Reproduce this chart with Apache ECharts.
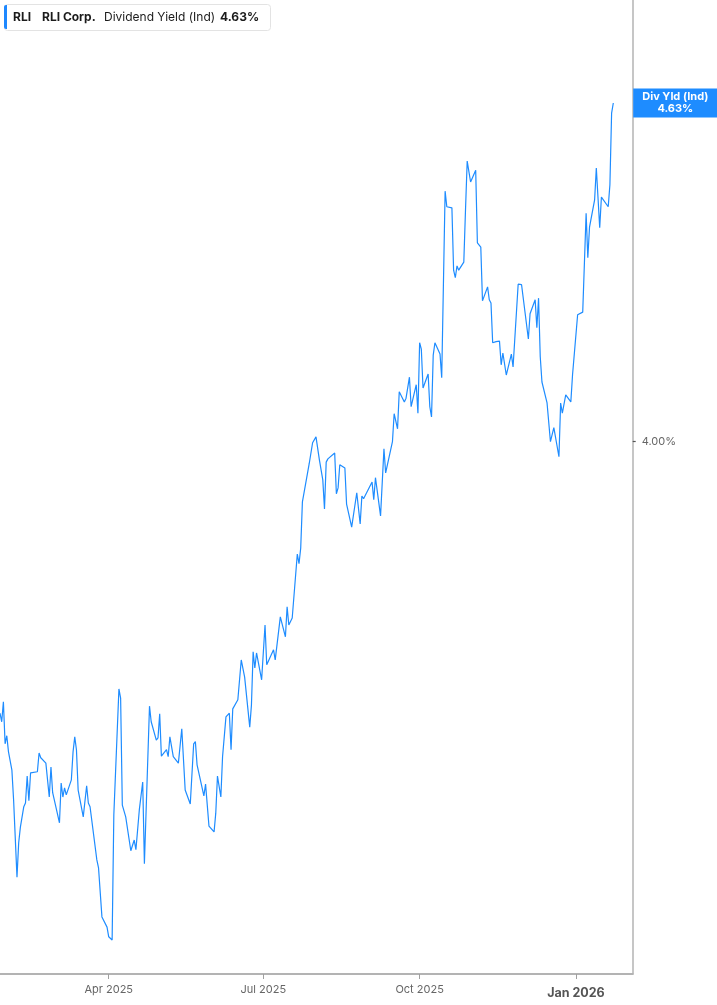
<!DOCTYPE html>
<html>
<head>
<meta charset="utf-8">
<script src="https://cdn.jsdelivr.net/npm/echarts@6/dist/echarts.min.js"></script>
<style>
  html, body { margin: 0; padding: 0; background: #fff; }
  #chart { width: 717px; height: 1005px; }
</style>
</head>
<body>
<div id="chart"></div>
<script>
// ---- data ----
const dates = [
  '2025-01-27','2025-01-28','2025-01-29','2025-01-30','2025-01-31','2025-02-01','2025-02-03','2025-02-04','2025-02-06','2025-02-07',
  '2025-02-08','2025-02-10','2025-02-11','2025-02-12','2025-02-13','2025-02-14','2025-02-18','2025-02-19','2025-02-20','2025-02-21',
  '2025-02-23','2025-02-25','2025-02-26','2025-02-27','2025-03-03','2025-03-04','2025-03-05','2025-03-06','2025-03-07','2025-03-10',
  '2025-03-11','2025-03-12','2025-03-13','2025-03-14','2025-03-17','2025-03-19','2025-03-20','2025-03-21','2025-03-25','2025-03-26',
  '2025-03-28','2025-03-31','2025-04-01','2025-04-03','2025-04-04','2025-04-07','2025-04-08','2025-04-09','2025-04-11','2025-04-14',
  '2025-04-16','2025-04-17','2025-04-19','2025-04-21','2025-04-22','2025-04-23','2025-04-25','2025-04-26','2025-04-29','2025-04-30',
  '2025-05-01','2025-05-02','2025-05-05','2025-05-06','2025-05-07','2025-05-09','2025-05-12','2025-05-14','2025-05-16','2025-05-19',
  '2025-05-21','2025-05-22','2025-05-23','2025-05-27','2025-05-28','2025-05-30','2025-06-02','2025-06-03','2025-06-04','2025-06-05',
  '2025-06-06','2025-06-07','2025-06-09','2025-06-11','2025-06-12','2025-06-13','2025-06-16','2025-06-18','2025-06-20','2025-06-23',
  '2025-06-24','2025-06-25','2025-06-26','2025-06-27','2025-06-30','2025-07-02','2025-07-03','2025-07-07','2025-07-08','2025-07-11',
  '2025-07-14','2025-07-15','2025-07-16','2025-07-18','2025-07-21','2025-07-22','2025-07-23','2025-07-24','2025-07-25','2025-07-28',
  '2025-07-29','2025-07-30','2025-08-01','2025-08-03','2025-08-05','2025-08-06','2025-08-07','2025-08-08','2025-08-12','2025-08-13',
  '2025-08-14','2025-08-15','2025-08-18','2025-08-19','2025-08-20','2025-08-22','2025-08-25','2025-08-27','2025-08-28','2025-08-29',
  '2025-09-03','2025-09-04','2025-09-05','2025-09-08','2025-09-10','2025-09-11','2025-09-12','2025-09-15','2025-09-16','2025-09-18',
  '2025-09-19','2025-09-22','2025-09-23','2025-09-24','2025-09-25','2025-09-26','2025-09-29','2025-09-30','2025-10-01','2025-10-02',
  '2025-10-03','2025-10-06','2025-10-07','2025-10-08','2025-10-09','2025-10-10','2025-10-13','2025-10-14','2025-10-16','2025-10-17',
  '2025-10-20','2025-10-21','2025-10-22','2025-10-23','2025-10-24','2025-10-27','2025-10-28','2025-10-29','2025-10-31','2025-11-03',
  '2025-11-04','2025-11-05','2025-11-06','2025-11-07','2025-11-10','2025-11-11','2025-11-12','2025-11-13','2025-11-15','2025-11-17',
  '2025-11-18','2025-11-19','2025-11-21','2025-11-24','2025-11-25','2025-11-26','2025-11-28','2025-11-30','2025-12-04','2025-12-05',
  '2025-12-08','2025-12-09','2025-12-10','2025-12-11','2025-12-12','2025-12-15','2025-12-17','2025-12-18','2025-12-19','2025-12-22',
  '2025-12-23','2025-12-24','2025-12-26','2025-12-29','2025-12-30','2026-01-02','2026-01-05','2026-01-07','2026-01-08','2026-01-09',
  '2026-01-12','2026-01-13','2026-01-15','2026-01-16','2026-01-20','2026-01-21','2026-01-22','2026-01-23'
];
const yieldValues = [
  3.495,3.479,3.516,3.438,3.453,3.423,3.389,3.334,3.190,3.254,
  3.283,3.321,3.328,3.378,3.332,3.384,3.386,3.421,3.412,3.415,
  3.402,3.339,3.395,3.347,3.291,3.365,3.339,3.356,3.343,3.371,
  3.423,3.451,3.427,3.352,3.302,3.360,3.328,3.321,3.222,3.207,
  3.116,3.097,3.079,3.073,3.306,3.540,3.523,3.324,3.302,3.239,
  3.259,3.241,3.315,3.367,3.215,3.218,3.508,3.479,3.445,3.449,
  3.494,3.415,3.427,3.414,3.451,3.414,3.402,3.466,3.352,3.326,
  3.438,3.442,3.399,3.341,3.363,3.285,3.274,3.309,3.378,3.376,
  3.339,3.414,3.488,3.495,3.427,3.503,3.520,3.594,3.562,3.469,
  3.510,3.609,3.579,3.607,3.557,3.659,3.585,3.613,3.594,3.674,
  3.637,3.693,3.659,3.672,3.791,3.773,3.802,3.888,3.888,3.959,
  3.960,3.998,4.009,3.966,3.929,3.875,3.962,3.968,3.979,3.903,
  3.914,3.957,3.951,3.884,3.882,3.841,3.905,3.847,3.899,3.894,
  3.925,3.892,3.933,3.862,3.987,3.942,3.944,4.000,4.052,4.024,
  4.093,4.074,4.081,4.078,4.120,4.065,4.106,4.053,4.184,4.172,
  4.100,4.126,4.065,4.046,4.161,4.184,4.163,4.119,4.466,4.437,
  4.435,4.319,4.305,4.327,4.319,4.334,4.431,4.522,4.483,4.505,
  4.370,4.370,4.362,4.262,4.288,4.264,4.258,4.184,4.186,4.187,
  4.143,4.165,4.124,4.163,4.139,4.139,4.293,4.292,4.191,4.238,
  4.264,4.212,4.267,4.158,4.111,4.072,4.000,3.998,4.026,3.972,
  4.072,4.053,4.087,4.074,4.124,4.236,4.241,4.425,4.342,4.399,
  4.450,4.509,4.398,4.455,4.437,4.478,4.611,4.630
];
const xTickDates = ['2025-04-01','2025-07-01','2025-10-01','2026-01-01'];
const xTickLabels = ['Apr 2025','Jul 2025','Oct 2025','Jan 2026'];
const yTickValues = [4.00];

// ---- chart ----
const chart = echarts.init(document.getElementById('chart'), null, { renderer: 'canvas' });
const toTs = s => echarts.number.parseDate(s).getTime();
const xTickTs = xTickDates.map(toTs);
const seriesData = dates.map((d, i) => [toTs(d), yieldValues[i]]);
const lastVal = yieldValues[yieldValues.length - 1];
const FONT = 'Inter, "Noto Sans", "Liberation Sans", sans-serif';
const xMin = toTs('2025-01-27');
const xMax = toTs('2026-02-03') + 10 * 3600 * 1000;

chart.setOption({
  animation: false,
  textStyle: { fontFamily: FONT },
  grid: { left: 0, right: 84.3, top: 0, bottom: 31, containLabel: false },
  xAxis: {
    type: 'value',
    min: xMin,
    max: xMax,
    splitLine: { show: false },
    axisLine: { show: true, onZero: false, lineStyle: { color: '#b3b3b3', width: 2 } },
    axisTick: { show: true, length: 5, lineStyle: { color: '#a0a0a0', width: 1 }, customValues: xTickTs },
    axisLabel: {
      show: true,
      customValues: xTickTs,
      margin: 10,
      formatter: function (v) {
        let idx = 0, best = Infinity;
        xTickTs.forEach((t, i) => { const d = Math.abs(t - v); if (d < best) { best = d; idx = i; } });
        const lab = xTickLabels[idx];
        return idx === xTickTs.length - 1 ? '{b|' + lab + '}' : '{n|' + lab + '}';
      },
      rich: {
        n: { fontFamily: FONT, fontSize: 11, color: '#666' },
        b: { fontFamily: FONT, fontSize: 12.5, fontWeight: 'bold', color: '#555', padding: [3, 0, 0, 0] }
      }
    }
  },
  yAxis: {
    type: 'value',
    position: 'right',
    min: 3.0098,
    max: 4.8216,
    splitLine: { show: false },
    axisLine: { show: true, lineStyle: { color: '#b3b3b3', width: 1.5 } },
    axisTick: { show: true, length: 3, lineStyle: { color: '#555', width: 1.2 }, customValues: yTickValues },
    axisLabel: {
      show: true,
      customValues: yTickValues,
      margin: 9,
      color: '#666',
      fontSize: 11,
      fontFamily: FONT,
      formatter: v => v.toFixed(2) + '%'
    }
  },
  series: [{
    type: 'line',
    data: seriesData,
    showSymbol: false,
    symbol: 'none',
    lineStyle: { color: '#1E8CFF', width: 1.2 },
    z: 3
  }]
});

// last-value tag on the right axis + header box
const py = chart.convertToPixel({ yAxisIndex: 0 }, lastVal);
const pxAxis = chart.convertToPixel({ xAxisIndex: 0 }, xMax);
chart.setOption({
  graphic: [
    { type: 'rect', left: 4, top: 4, z: 10, shape: { width: 266, height: 26, r: 3 }, style: { fill: '#fff', stroke: '#e3e3e3', lineWidth: 1 } },
    { type: 'rect', left: 4, top: 5, z: 11, shape: { width: 3, height: 24, r: [2, 0, 0, 2] }, style: { fill: '#1E88FF' } },
    { type: 'text', x: 13, y: 17.5, z: 11, style: { text: 'RLI', fill: '#1b1b1b', font: 'bold 12px ' + FONT, verticalAlign: 'middle' } },
    { type: 'text', x: 42, y: 17.5, z: 11, style: { text: 'RLI Corp.', fill: '#1b1b1b', font: 'bold 12px ' + FONT, verticalAlign: 'middle' } },
    { type: 'text', x: 104, y: 17.5, z: 11, style: { text: 'Dividend Yield (Ind)', fill: '#1b1b1b', font: '12px ' + FONT, verticalAlign: 'middle' } },
    { type: 'text', x: 220, y: 17.5, z: 11, style: { text: lastVal.toFixed(2) + '%', fill: '#1b1b1b', font: 'bold 12px ' + FONT, verticalAlign: 'middle' } },
    { type: 'rect', x: pxAxis + 0.5, y: py - 14.5, z: 10, shape: { width: 717 - pxAxis, height: 29 }, style: { fill: '#1E8CFF' } },
    { type: 'text', x: pxAxis + 0.5 + (717 - pxAxis) / 2, y: py - 6.5, z: 11, style: { text: 'Div Yld (Ind)', fill: '#fff', font: 'bold 11px ' + FONT, align: 'center', verticalAlign: 'middle' } },
    { type: 'text', x: pxAxis + 0.5 + (717 - pxAxis) / 2, y: py + 6, z: 11, style: { text: lastVal.toFixed(2) + '%', fill: '#fff', font: 'bold 11px ' + FONT, align: 'center', verticalAlign: 'middle' } }
  ]
});
</script>
</body>
</html>
